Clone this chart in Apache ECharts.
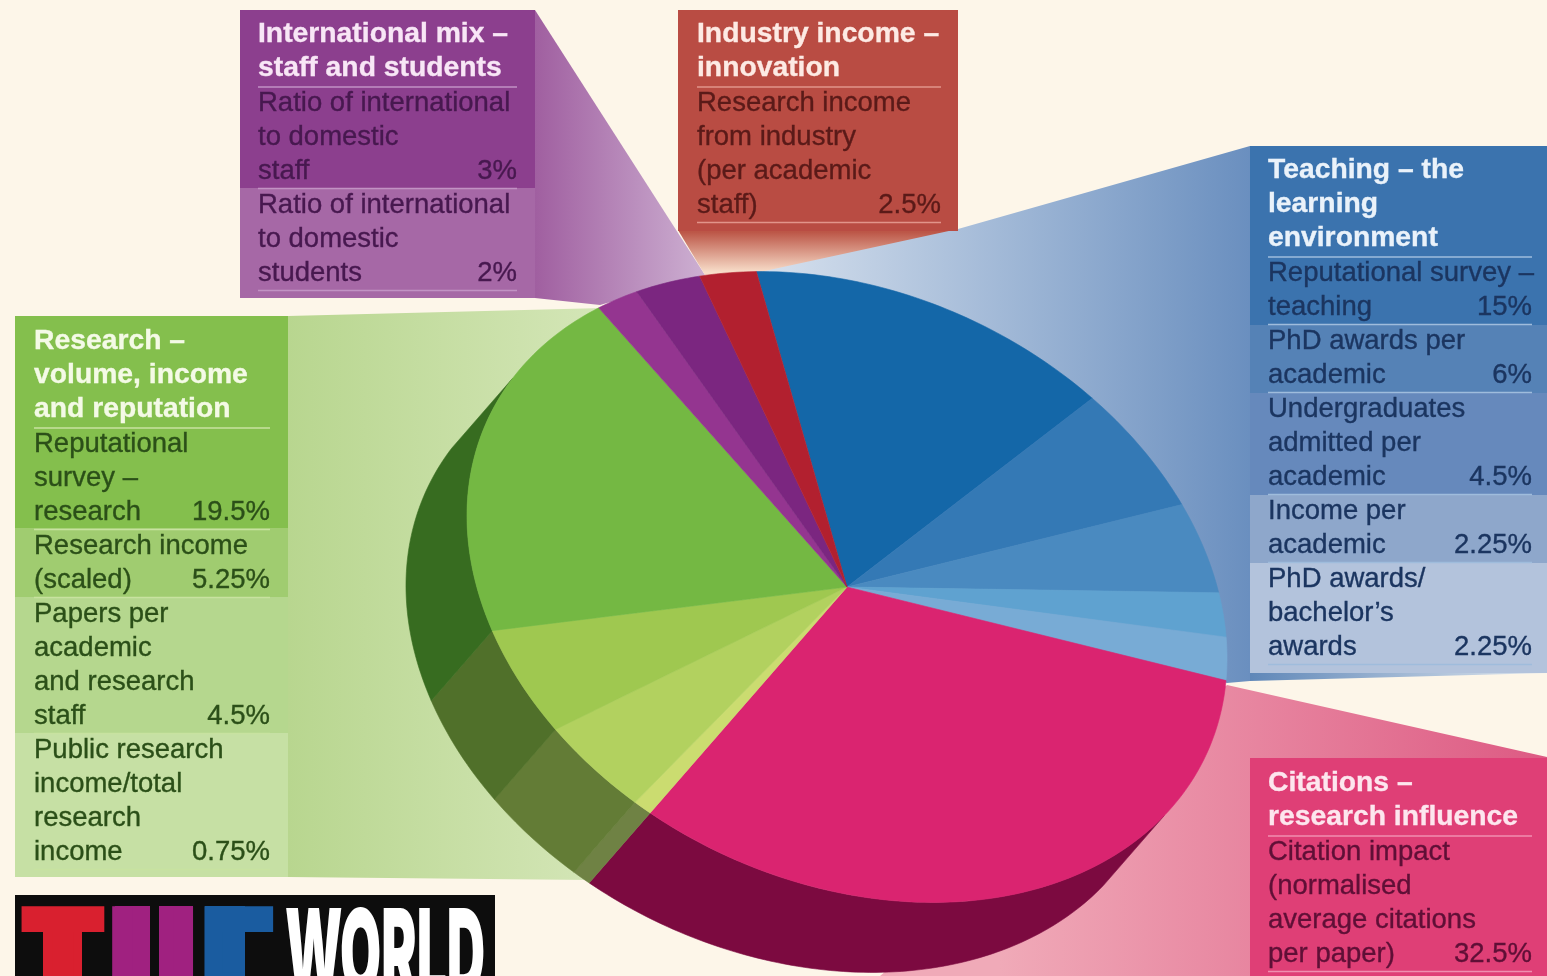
<!DOCTYPE html>
<html>
<head>
<meta charset="utf-8">
<title>World University Rankings methodology</title>
<style>
  html, body { margin: 0; padding: 0; background: #fdf6e9; }
  #chart { width: 1547px; height: 976px; }
</style>
<script src="https://cdn.jsdelivr.net/npm/echarts@6/dist/echarts.min.js"></script>
</head>
<body>
<div id="chart"></div>
<script>
// Indicator weights, clockwise from the top of the pie.
const categories = [
  ['Reputational survey –', 'teaching'],
  ['PhD awards per', 'academic'],
  ['Undergraduates', 'admitted per', 'academic'],
  ['Income per', 'academic'],
  ['PhD awards/', 'bachelor’s', 'awards'],
  ['Citation impact', '(normalised', 'average citations', 'per paper)'],
  ['Public research', 'income/total', 'research', 'income'],
  ['Papers per', 'academic', 'and research', 'staff'],
  ['Research income', '(scaled)'],
  ['Reputational', 'survey –', 'research'],
  ['Ratio of international', 'to domestic', 'students'],
  ['Ratio of international', 'to domestic', 'staff'],
  ['Research income', 'from industry', '(per academic', 'staff)']
];
const values = [15, 6, 4.5, 2.25, 2.25, 32.5, 0.75, 4.5, 5.25, 19.5, 2, 3, 2.5];

const faceColors = ['#1467a8', '#3479b5', '#4a8ac0', '#5fa2d0', '#78abd5', '#da2470',
  '#cbdc70', '#b2d15f', '#9fc850', '#74b843', '#943590', '#7b2680', '#b2202f'];
const wallColors = ['#0d3f68', '#0d3f68', '#0d3f68', '#0d3f68', '#0d3f68', '#7c0a40',
  '#6f8244', '#637c36', '#50702a', '#376c20', '#4a1a48', '#3d1340', '#6a1018'];

// Heading lines of each criterion box.
const teachingHeading = ['Teaching – the', 'learning', 'environment'];
const citationsHeading = ['Citations –', 'research influence'];
const researchHeading = ['Research –', 'volume, income', 'and reputation'];
const internationalHeading = ['International mix –', 'staff and students'];
const industryHeading = ['Industry income –', 'innovation'];

// The tilted pie: a unit circle pushed through a linear map, plus the extrusion offset.
const pie = { cx: 847, cy: 587, ax: 380, bx: 4, ay: 68, by: 308, start: 256.8, depthX: -61, depthY: 70 };
const rad = Math.PI / 180;
const total = values.reduce((a, b) => a + b, 0);
const edges = [0];
values.forEach(v => edges.push(edges[edges.length - 1] + v));
const angleOf = cum => pie.start + echarts.number.linearMap(cum, [0, total], [0, 360]);

function rim(deg, dx, dy) {
  const c = Math.cos(deg * rad), s = Math.sin(deg * rad);
  return [pie.cx + (dx || 0) + pie.ax * c + pie.bx * s, pie.cy + (dy || 0) + pie.ay * c + pie.by * s];
}
function arc(a0, a1, dx, dy) {
  const pts = [], n = Math.max(2, Math.ceil(Math.abs(a1 - a0)));
  for (let i = 0; i <= n; i++) pts.push(rim(a0 + (a1 - a0) * i / n, dx, dy));
  return pts;
}

function renderFace(params) {
  const i = params.dataIndex;
  const pts = [[pie.cx, pie.cy]].concat(arc(angleOf(edges[i]), angleOf(edges[i + 1])));
  return { type: 'polygon', shape: { points: pts },
    style: { fill: faceColors[i], stroke: faceColors[i], lineWidth: 0.6 } };
}
// The side wall is only drawn on the near side of the pie, tapering out at both ends.
const wallFrom = 34, wallTo = 209;
function renderWall(params) {
  const i = params.dataIndex;
  let a0 = angleOf(edges[i]), a1 = angleOf(edges[i + 1]);
  if (a1 > 360) { a0 -= 360; a1 -= 360; }
  a0 = Math.max(a0, wallFrom);
  a1 = Math.min(a1, wallTo);
  if (a1 <= a0) return null;
  const pts = arc(a0, a1).concat(arc(a1, a0, pie.depthX, pie.depthY));
  return { type: 'polygon', shape: { points: pts },
    style: { fill: wallColors[i], stroke: wallColors[i], lineWidth: 0.6 } };
}

const bodyFont = '27.5px "Liberation Sans", Arial, sans-serif';
const headFont = 'bold 28.3px "Liberation Sans", Arial, sans-serif';
const LINE = 34;

const elements = [];
const rect = (x, y, w, h, fill) => elements.push({ type: 'rect', shape: { x, y, width: w, height: h }, style: { fill } });
const poly = (points, fill) => elements.push({ type: 'polygon', shape: { points }, style: { fill } });
const line = (x1, x2, y, stroke, w) => elements.push({ type: 'line', shape: { x1, y1: y, x2, y2: y }, style: { stroke, lineWidth: w || 1.6 } });
const text = (t, x, y, fill, font, align) => elements.push({ type: 'text', x, y: y + 1.5,
  style: { text: t, fill, font, textAlign: align || 'left', textVerticalAlign: 'middle', stroke: fill, lineWidth: 0.35 } });
const grad = (x, y, x2, y2, a, b) => ({ type: 'linear', x, y, x2, y2, global: true,
  colorStops: [{ offset: 0, color: a }, { offset: 1, color: b }] });

// Translucent wedges joining each box to its part of the pie.
poly([[288, 316], [603, 308], [590, 880], [288, 877]], grad(288, 0, 620, 0, '#b8d68f', '#d6e7ba'));
poly([[535, 10], [705, 275], [600, 305], [535, 298]], grad(535, 0, 705, 0, '#a05fa0', '#cdb0d2'));
poly([[678, 230], [958, 230], [760, 273], [705, 275]], grad(0, 232, 0, 272, '#bc5647', '#f8ddc9'));
poly([[760, 272], [958, 229], [1250, 146], [1250, 681], [1227, 683], [847, 587]],
  grad(780, 0, 1250, 0, '#d3deec', '#6a8fbf'));
poly([[1250, 673], [1547, 671], [1547, 673], [1250, 681]], grad(1250, 0, 1547, 0, '#5f87b8', '#dfe6ee'));
poly([[1227, 685], [1547, 757], [1547, 976], [880, 976]], grad(1000, 0, 1547, 0, '#f0aab8', '#dd5a83'));

// One criterion box: coloured bands, heading, rules, wrapped labels and right-aligned weights.
function box(cfg) {
  const x0 = cfg.x;
  cfg.bands.forEach(b => rect(x0, b[0], cfg.w, b[1] - b[0], b[2]));
  let y = cfg.headY;
  cfg.heading.forEach((t, k) => text(t, cfg.left, y + k * LINE, cfg.headColor, headFont));
  line(cfg.left, cfg.right, y + (cfg.heading.length - 1) * LINE + 20, cfg.rule);
  y = y + (cfg.heading.length - 1) * LINE + 35;
  cfg.rows.forEach(idx => {
    const lines = categories[idx];
    lines.forEach((t, k) => text(t, cfg.left, y + k * LINE, cfg.textColor, bodyFont));
    const last = y + (lines.length - 1) * LINE;
    text(values[idx] + '%', cfg.right, last, cfg.textColor, bodyFont, 'right');
    line(cfg.left, cfg.right, last + 18.5, cfg.rule);
    y = last + LINE;
  });
}

box({ x: 240, w: 295, left: 258, right: 517, headY: 33, heading: internationalHeading, rows: [11, 10],
  bands: [[10, 188, '#8c3f8e'], [188, 298, '#a668a6']],
  headColor: '#f8e6f6', textColor: '#47184f', rule: '#c292c4' });
box({ x: 678, w: 280, left: 697, right: 941, headY: 33, heading: industryHeading, rows: [12],
  bands: [[10, 231, '#b94c43']],
  headColor: '#fdeae4', textColor: '#5a1a18', rule: '#e2948a' });
box({ x: 1250, w: 297, left: 1268, right: 1532, headY: 169, heading: teachingHeading, rows: [0, 1, 2, 3, 4],
  bands: [[146, 325, '#3b73ae'], [325, 393, '#5582b6'], [393, 495, '#6689bc'], [495, 563, '#8ea7cb'], [563, 673, '#b3c3dc']],
  headColor: '#eaf2fa', textColor: '#1b3560', rule: '#9fbcdc' });
box({ x: 1250, w: 297, left: 1268, right: 1532, headY: 782, heading: citationsHeading, rows: [5],
  bands: [[758, 976, '#df3f76']],
  headColor: '#fde6ee', textColor: '#5f0f36', rule: '#f08fb0' });
box({ x: 15, w: 273, left: 34, right: 270, headY: 340, heading: researchHeading, rows: [9, 8, 7, 6],
  bands: [[316, 528, '#84bf4d'], [528, 597, '#a0cc70'], [597, 733, '#b5d78e'], [733, 877, '#c6e0a4']],
  headColor: '#f4fae6', textColor: '#2b4f18', rule: '#c8e2a0' });

// Masthead, cut off by the bottom edge of the page. The heavy stems are built up behind the glyphs,
// and the page edge falls above the middle bars of the H and the E.
rect(15, 895, 480, 81, '#0d0d0d');
const logoFont = 'bold 232px "Liberation Sans", Arial, sans-serif';
const logo = (t, x, fill, sx) => elements.push({ type: 'text', x, y: 1002, scaleX: sx,
  style: { text: t, fill, font: logoFont, textAlign: 'left', textVerticalAlign: 'middle' } });
rect(43, 925, 39, 51, '#d9202f');
rect(115, 906, 35, 70, '#a02180');
rect(159, 906, 34, 70, '#a02180');
rect(205, 906, 40, 70, '#1a5ca0');
logo('T', 20, '#d9202f', 0.605);
logo('H', 103, '#a02180', 0.593);
logo('E', 196, '#1a5ca0', 0.547);
rect(150, 950, 9, 26, '#0d0d0d');
rect(245, 950, 38, 26, '#0d0d0d');
elements.push({ type: 'text', x: 285, y: 900, scaleX: 0.45,
  style: { text: 'WORLD', fill: '#ffffff', font: '900 118px Inter, "Liberation Sans", sans-serif', textAlign: 'left', textVerticalAlign: 'top' } });

const chart = echarts.init(document.getElementById('chart'));
chart.setOption({
  backgroundColor: '#fdf6e9',
  animation: false,
  graphic: { elements: elements.map(e => Object.assign({ silent: true }, e)) },
  series: [
    { type: 'custom', coordinateSystem: 'none', z: 2, silent: true, renderItem: renderWall, data: values },
    { type: 'custom', coordinateSystem: 'none', z: 3, silent: true, renderItem: renderFace, data: values }
  ]
});
</script>
</body>
</html>
